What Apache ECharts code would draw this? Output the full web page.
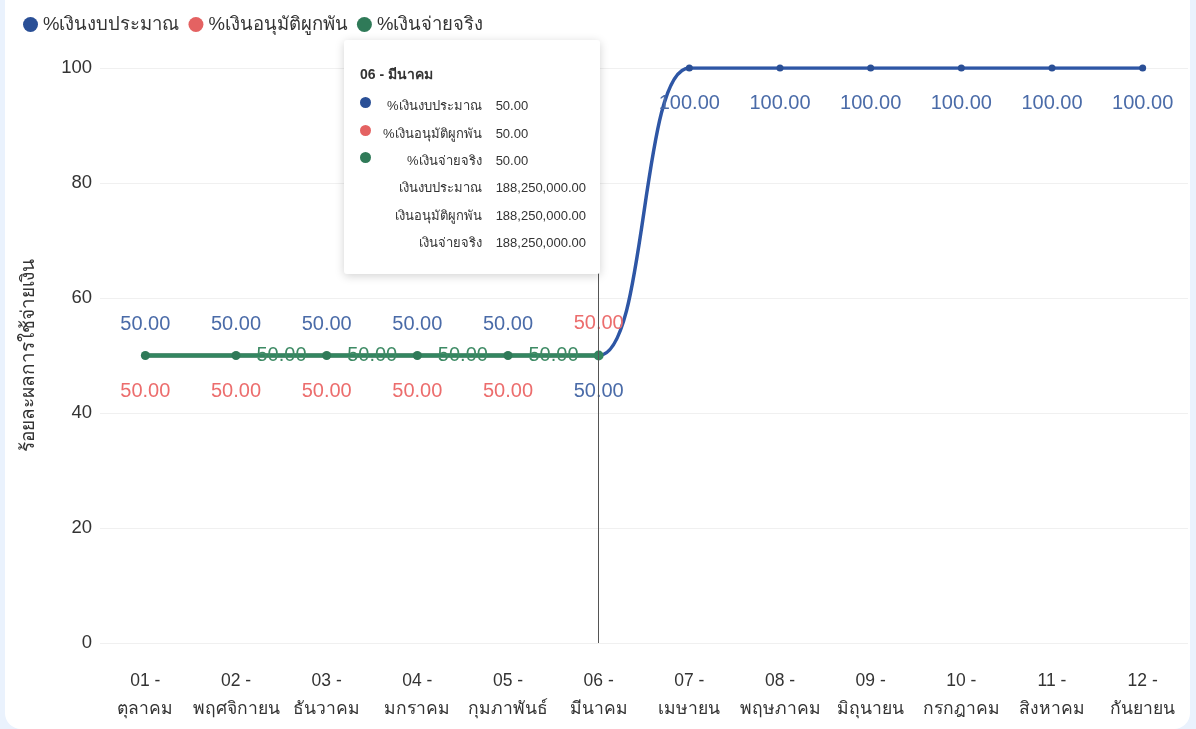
<!DOCTYPE html>
<html>
<head>
<meta charset="utf-8">
<script src="https://cdn.jsdelivr.net/npm/echarts@6/dist/echarts.min.js"></script>
<style>
  html, body { margin: 0; padding: 0; background: #eaf2fd; }
  #card { position: absolute; left: 5px; top: -20px; width: 1185px; height: 749px;
          background: #ffffff; border-radius: 16px; }
  #chart { position: absolute; left: 0; top: 0; width: 1196px; height: 729px; }
</style>
</head>
<body>
<div id="card"></div>
<div id="chart"></div>
<script>
// Fiscal-year months (October .. September)
const months = [
  '01 -\nตุลาคม', '02 -\nพฤศจิกายน', '03 -\nธันวาคม', '04 -\nมกราคม',
  '05 -\nกุมภาพันธ์', '06 -\nมีนาคม', '07 -\nเมษายน', '08 -\nพฤษภาคม',
  '09 -\nมิถุนายน', '10 -\nกรกฎาคม', '11 -\nสิงหาคม', '12 -\nกันยายน'
];

// Cumulative percentage of the budget
const pctBudget   = [50, 50, 50, 50, 50, 50, 100, 100, 100, 100, 100, 100];
const pctApproved = [50, 50, 50, 50, 50, 50, null, null, null, null, null, null];
const pctPaid     = [50, 50, 50, 50, 50, 50, null, null, null, null, null, null];

// Cumulative amounts (baht)
const amtBudget   = [188250000, 188250000, 188250000, 188250000, 188250000, 188250000,
                     376500000, 376500000, 376500000, 376500000, 376500000, 376500000];
const amtApproved = [188250000, 188250000, 188250000, 188250000, 188250000, 188250000,
                     null, null, null, null, null, null];
const amtPaid     = [188250000, 188250000, 188250000, 188250000, 188250000, 188250000,
                     null, null, null, null, null, null];

const yTicks = [0, 20, 40, 60, 80, 100];

const seriesNames = ['%เงินงบประมาณ', '%เงินอนุมัติผูกพัน', '%เงินจ่ายจริง'];
const amountNames = ['เงินงบประมาณ', 'เงินอนุมัติผูกพัน', 'เงินจ่ายจริง'];
const colors      = ['#2a4f96', '#e46262', '#2f7a58'];
const labelColors = ['#4a6ba8', '#ec6d6d', '#3d8a64'];

const FONT = "'Liberation Sans', 'Noto Sans', sans-serif";

const fmt = v => v == null ? '-' : v.toLocaleString('en-US', { minimumFractionDigits: 2, maximumFractionDigits: 2 });

// label above or below a point
const above = { position: 'top', distance: 18 };
const below = { position: 'bottom', distance: 22 };

// per-point label placement so the overlapping series stay readable
function budgetData() {
  return pctBudget.map((v, i) => ({
    value: v,
    label: (v === 50 && i < 5) ? above : below
  }));
}
function approvedData() {
  return pctApproved.map((v, i) => ({
    value: v,
    label: i === 5 ? above : below
  }));
}
function paidData() {
  return pctPaid.map((v, i) => ({
    value: v,
    label: { show: i > 0 && i < 5 }
  }));
}

const chart = echarts.init(document.getElementById('chart'), null, { renderer: 'canvas' });

const labelBase = {
  show: true,
  fontFamily: FONT,
  fontSize: 20,
  formatter: p => fmt(p.value)
};

const option = {
  animation: false,
  color: colors,
  legend: {
    left: 18,
    top: 10,
    icon: 'circle',
    itemWidth: 15,
    itemHeight: 15,
    itemGap: 9,
    textStyle: { fontFamily: FONT, fontSize: 18.5, color: '#333' },
    data: seriesNames
  },
  grid: { left: 100, right: 8, top: 68, bottom: 86 },
  tooltip: {
    trigger: 'axis',
    backgroundColor: '#ffffff',
    borderColor: '#ffffff',
    borderWidth: 0,
    padding: [25, 14, 18, 16],
    extraCssText: 'box-shadow: 0 2px 10px rgba(0,0,0,0.18); border-radius: 3px; width: 226px;',
    position: () => [344, 40],
    axisPointer: { type: 'line', lineStyle: { color: '#555', width: 1, type: 'solid' } },
    formatter: params => {
      const i = params[0].dataIndex;
      const pcts = [pctBudget[i], pctApproved[i], pctPaid[i]];
      const amts = [amtBudget[i], amtApproved[i], amtPaid[i]];
      const title = months[i].replace('\n', ' ');
      let html = '<div style="font-family:' + FONT.replace(/'/g, '') + ';color:#333">';
      html += '<div style="font-weight:bold;font-size:14px;line-height:18px;margin-bottom:9px">' + title + '</div>';
      html += '<table style="border-collapse:collapse;font-size:13px;color:#333">';
      const row = (dot, name, val) =>
        '<tr style="height:27.4px"><td style="width:14px;padding:0;vertical-align:middle;line-height:0">' + dot + '</td>' +
        '<td style="width:118px;text-align:right;padding:0;white-space:nowrap">' + name + '</td>' +
        '<td style="text-align:left;padding:0 0 0 14px;white-space:nowrap">' + val + '</td></tr>';
      for (let s = 0; s < 3; s++) {
        const dot = '<span style="display:inline-block;width:11px;height:11px;border-radius:6px;position:relative;top:-3px;background:' + colors[s] + '"></span>';
        html += row(dot, seriesNames[s], fmt(pcts[s]));
      }
      for (let s = 0; s < 3; s++) {
        html += row('', amountNames[s], fmt(amts[s]));
      }
      html += '</table></div>';
      return html;
    }
  },
  xAxis: {
    type: 'category',
    data: months,
    boundaryGap: true,
    axisLine: { show: false },
    axisTick: { show: false },
    axisLabel: {
      fontFamily: FONT, fontSize: 17.5, color: '#333', lineHeight: 28, margin: 24,
      interval: 0
    }
  },
  yAxis: {
    type: 'value',
    min: yTicks[0],
    max: yTicks[yTicks.length - 1],
    interval: yTicks[1] - yTicks[0],
    name: 'ร้อยละผลการใช้จ่ายเงิน',
    nameLocation: 'middle',
    nameGap: 62,
    nameRotate: 90,
    nameTextStyle: { fontFamily: FONT, fontSize: 19, color: '#333' },
    axisLabel: { fontFamily: FONT, fontSize: 18.5, color: '#333', margin: 8 },
    splitLine: { lineStyle: { color: '#f0f0f0', width: 1 } }
  },
  series: [
    {
      name: seriesNames[0],
      type: 'line',
      smooth: 0.35,
      data: budgetData(),
      symbol: 'circle',
      symbolSize: 7,
      lineStyle: { width: 3.5, color: colors[0] },
      itemStyle: { color: colors[0] },
      label: Object.assign({}, labelBase, { color: labelColors[0] })
    },
    {
      name: seriesNames[1],
      type: 'line',
      smooth: 0.35,
      data: approvedData(),
      symbol: 'circle',
      symbolSize: 7,
      lineStyle: { width: 3.5, color: colors[1] },
      itemStyle: { color: colors[1] },
      label: Object.assign({}, labelBase, { color: labelColors[1] })
    },
    {
      name: seriesNames[2],
      type: 'line',
      smooth: 0.35,
      data: paidData(),
      symbol: 'circle',
      symbolSize: 9,
      lineStyle: { width: 4.5, color: colors[2] },
      itemStyle: { color: colors[2] },
      label: Object.assign({}, labelBase, { color: labelColors[2], position: 'right', distance: 16 })
    }
  ]
};

chart.setOption(option);
chart.dispatchAction({ type: 'showTip', seriesIndex: 0, dataIndex: 5 });
</script>
</body>
</html>
